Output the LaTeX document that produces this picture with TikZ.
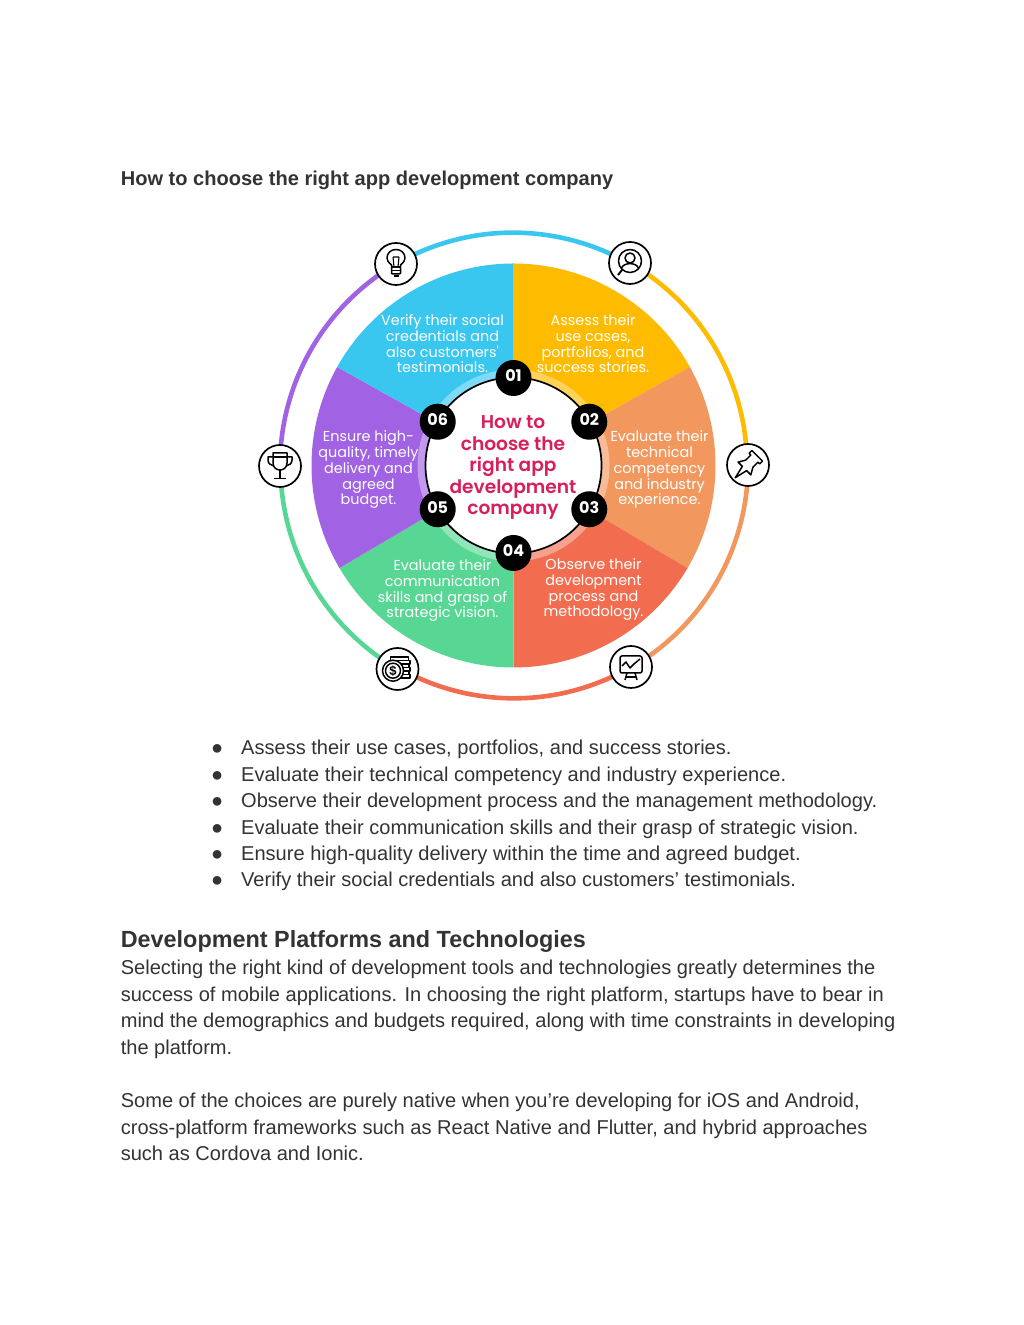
\documentclass[tikz,border=0pt]{standalone}
\usepackage{fontspec}
\setmainfont{Liberation Sans}
\newfontfamily\wheelfont{Poppins}
\newfontfamily\hubfont{Poppins SemiBold}
\usetikzlibrary{backgrounds,calc}
\definecolor{ink}{HTML}{333333}
\definecolor{crimson}{HTML}{D81F5C}
\definecolor{skyblue}{HTML}{3AC7EF}
\definecolor{amber}{HTML}{FFBB00}
\definecolor{peach}{HTML}{F2985F}
\definecolor{coral}{HTML}{F26D50}
\definecolor{mint}{HTML}{57D694}
\definecolor{violet}{HTML}{A162E3}

\begin{document}
\begin{tikzpicture}[x=1pt,y=1pt,
      bodytext/.style={anchor=base west,inner sep=0pt,text=ink,font=\fontsize{20.05}{26.4}\selectfont},
      heading/.style={anchor=base west,inner sep=0pt,text=ink},
      wedgetext/.style={align=center,inner sep=0pt,text=white,
                    font=\wheelfont\fontsize{14.4}{15.7}\selectfont},
      hubtext/.style={align=center,inner sep=0pt,text=crimson,
                    font=\hubfont\fontsize{18.6}{21.5}\selectfont},
      badge/.style={circle,fill=black,text=white,minimum size=36pt,inner sep=0pt,text depth=4pt,
                    font=\wheelfont\fontsize{16}{16}\selectfont\bfseries},
      iconring/.style={circle,draw=black,fill=white,line width=1.7pt,minimum size=42pt,inner sep=0pt},
      ringarc/.style={line width=4.6pt},
      glyph/.style={draw=black,line width=1.5pt,line join=round}]
    \useasboundingbox (0,0) rectangle (1024,1325);
    \coordinate (hub) at (513.5,859.5);

    % wheel
    \fill[amber,shift={(hub)}] (0,0) -- (90:202) arc (90:29.2:202) -- cycle;
    \fill[peach,shift={(hub)}] (0,0) -- (29.2:202) arc (29.2:-30.5:202) -- cycle;
    \fill[coral,shift={(hub)}] (0,0) -- (-30.5:202) arc (-30.5:-90:202) -- cycle;
    \fill[mint,shift={(hub)}] (0,0) -- (-90:202) arc (-90:-149.5:202) -- cycle;
    \fill[violet,shift={(hub)}] (0,0) -- (-149.5:202) arc (-149.5:-209.2:202) -- cycle;
    \fill[skyblue,shift={(hub)}] (0,0) -- (150.8:202) arc (150.8:90:202) -- cycle;

    % lighter band round the centre
    \fill[amber!65!white,shift={(hub)}] (0,0) -- (90:96) arc (90:30:96) -- cycle;
    \fill[peach!65!white,shift={(hub)}] (0,0) -- (30:96) arc (30:-30:96) -- cycle;
    \fill[coral!65!white,shift={(hub)}] (0,0) -- (-30:96) arc (-30:-90:96) -- cycle;
    \fill[mint!65!white,shift={(hub)}] (0,0) -- (-90:96) arc (-90:-150:96) -- cycle;
    \fill[violet!65!white,shift={(hub)}] (0,0) -- (-150:96) arc (-150:-210:96) -- cycle;
    \fill[skyblue!65!white,shift={(hub)}] (0,0) -- (150:96) arc (150:90:96) -- cycle;
    \draw[black,fill=white,line width=1.7pt] (hub) circle (88);

    \node[hubtext] (hubtitle) at (513,857.5) {How to\\choose the\\right app\\development\\company};

    \node[badge] (badgeA) at ($(hub)+(90:87.5)$) {01};
    \node[badge] (badgeB) at ($(hub)+(30:87.5)$) {02};
    \node[badge] (badgeC) at ($(hub)+(-30:87.5)$) {03};
    \node[badge] (badgeD) at ($(hub)+(-90:87.5)$) {04};
    \node[badge] (badgeE) at ($(hub)+(-150:87.5)$) {05};
    \node[badge] (badgeF) at ($(hub)+(150:87.5)$) {06};

    \node[wedgetext] (stepA) at (593,981.2) {Assess their\\use cases,\\portfolios, and\\success stories.};
    \node[wedgetext] (stepB) at (659.5,855.2) {Evaluate their\\technical\\competency\\and industry\\experience.};
    \node[wedgetext] (stepC) at (593.5,735.3) {Observe their\\development\\process and\\methodology.};
    \node[wedgetext] (stepD) at (442.5,734.3) {Evaluate their\\communication\\skills and grasp of\\strategic vision.};
    \node[wedgetext] (stepE) at (368.5,855.2) {Ensure high-\\quality, timely\\delivery and\\agreed\\budget.};
    \node[wedgetext] (stepF) at (442.5,981.2) {Verify their social\\credentials and\\also customers'\\testimonials.};

    % icons on the outer ring
    \node[iconring] (iconA) at (630,1062) {};
    \node[iconring] (iconB) at (748,860) {};
    \node[iconring] (iconC) at (631,658) {};
    \node[iconring] (iconD) at (397.5,656) {};
    \node[iconring] (iconE) at (280,859) {};
    \node[iconring] (iconF) at (396,1061) {};

    \begin{pgfonlayer}{background}
      \draw[ringarc,amber] (iconA.center) arc[start angle=60,end angle=0,radius=234];
      \draw[ringarc,peach] (iconB.center) arc[start angle=0,end angle=-60,radius=234];
      \draw[ringarc,coral] (iconC.center) arc[start angle=-60,end angle=-120,radius=234];
      \draw[ringarc,mint] (iconD.center) arc[start angle=-120,end angle=-180,radius=234];
      \draw[ringarc,violet] (iconE.center) arc[start angle=180,end angle=120,radius=234];
      \draw[ringarc,skyblue] (iconF.center) arc[start angle=120,end angle=60,radius=234];
    \end{pgfonlayer}

    % lens and person
    \begin{scope}[shift={(iconA)}]
      \draw[glyph] (0,2) circle (11.5);
      \draw[glyph] (0,5) circle (5);
      \draw[glyph] (-8.5,-5.5) .. controls (-7,1) and (7,1) .. (8.5,-5.5);
      \draw[glyph,line width=1.9pt] (-8,-7) -- (-12,-12);
    \end{scope}
    % pin
    \begin{scope}[shift={(iconB)},rotate=-45]
      \draw[glyph] (0,-18) -- (-3,-5) -- (-9,-5) -- (-5,2) -- (-5,9) -- (-7.5,9) -- (-7.5,13)
        -- (7.5,13) -- (7.5,9) -- (5,9) -- (5,2) -- (9,-5) -- (3,-5) -- cycle;
    \end{scope}
    % chart on a stand
    \begin{scope}[shift={(iconC)}]
      \draw[glyph,rounded corners=2pt] (-11,-6) rectangle (11,11);
      \draw[glyph] (-9,1) -- (-5,5) -- (-1,-1) -- (3,3) -- (9,8);
      \draw[glyph] (-4,-6) -- (-6,-13);
      \draw[glyph] (4,-6) -- (6,-13);
      \draw[glyph] (-5,-10) -- (5,-10);
    \end{scope}
    % coins
    \begin{scope}[shift={(iconD)}]
      \draw[glyph,fill=white] (-7,8.5) rectangle (11,12);
      \draw[glyph,fill=white] (-5,5) rectangle (12.5,8.5);
      \draw[glyph,fill=white] (-3,1.5) rectangle (11.5,5);
      \draw[glyph,fill=white] (-3,-2) rectangle (12.5,1.5);
      \draw[glyph,fill=white] (-3,-5.5) rectangle (11.5,-2);
      \draw[glyph,fill=white] (-3,-9) rectangle (12.5,-5.5);
      \draw[glyph,fill=white] (-4.5,-1.7) circle (10.5);
      \draw[glyph] (-4.5,-1.7) circle (7.5);
      \node[inner sep=0pt,font=\fontsize{13}{13}\selectfont\bfseries] (coinsign) at (-4.5,-1.7) {\$};
    \end{scope}
    % trophy
    \begin{scope}[shift={(iconE)}]
      \draw[glyph] (-7,13) -- (7,13) -- (7,3) .. controls (7,-2) and (3,-4) .. (0,-4)
        .. controls (-3,-4) and (-7,-2) .. (-7,3) -- cycle;
      \draw[glyph] (-7,9) -- (7,9);
      \draw[glyph] (-7,9) -- (-12,9) -- (-12,6) .. controls (-12,2) and (-9,1) .. (-6,0);
      \draw[glyph] (7,9) -- (12,9) -- (12,6) .. controls (12,2) and (9,1) .. (6,0);
      \draw[glyph] (0,-4) -- (0,-12);
      \draw[glyph] (-6,-12.5) -- (6,-12.5);
    \end{scope}
    % light bulb
    \begin{scope}[shift={(iconF)}]
      \draw[glyph] (-4.5,-3) -- (-4.5,-1) .. controls (-8,2) and (-9,4) .. (-9,6)
        .. controls (-9,11) and (-5,14.5) .. (0,14.5)
        .. controls (5,14.5) and (9,11) .. (9,6)
        .. controls (9,4) and (8,2) .. (4.5,-1) -- (4.5,-3) -- cycle;
      \draw[glyph,line width=1.1pt] (-2,-3) -- (-3,7) (2,-3) -- (3,7) (-3,7) -- (3,7);
      \draw[glyph,rounded corners=1pt] (-4.5,-3) rectangle (4.5,-10);
      \draw[glyph] (-4.5,-6.5) -- (4.5,-6.5);
      \draw[glyph] (-2.5,-12) -- (2.5,-12);
    \end{scope}

    % page text
    \node[heading,font=\fontsize{20.05}{24}\selectfont\bfseries] (pagetitle) at (120.6,1139) {How to choose the right app development company};

    \node[bodytext] (dotA) at (211,570) {●};
    \node[bodytext] (dotB) at (211,543.6) {●};
    \node[bodytext] (dotC) at (211,517.2) {●};
    \node[bodytext] (dotD) at (211,490.8) {●};
    \node[bodytext] (dotE) at (211,464.4) {●};
    \node[bodytext] (dotF) at (211,438) {●};
    \node[bodytext] (itemA) at (241,570) {Assess their use cases, portfolios, and success stories.};
    \node[bodytext] (itemB) at (241,543.6) {Evaluate their technical competency and industry experience.};
    \node[bodytext] (itemC) at (241,517.2) {Observe their development process and the management methodology.};
    \node[bodytext] (itemD) at (241,490.8) {Evaluate their communication skills and their grasp of strategic vision.};
    \node[bodytext] (itemE) at (241,464.4) {Ensure high-quality delivery within the time and agreed budget.};
    \node[bodytext] (itemF) at (241,438) {Verify their social credentials and also customers’ testimonials.};

    \node[heading,font=\fontsize{23.4}{26}\selectfont\bfseries] (sectiontitle) at (120.6,377) {Development Platforms and Technologies};

    \node[bodytext] (paraAa) at (120.6,350) {Selecting the right kind of development tools and technologies greatly determines the};
    \node[bodytext] (paraAb) at (120.6,323.6) {success of mobile applications. In choosing the right platform, startups have to bear in};
    \node[bodytext] (paraAc) at (120.6,297.2) {mind the demographics and budgets required, along with time constraints in developing};
    \node[bodytext] (paraAd) at (120.6,270.8) {the platform.};

    \node[bodytext] (paraBa) at (120.6,217) {Some of the choices are purely native when you’re developing for iOS and Android,};
    \node[bodytext] (paraBb) at (120.6,190.6) {cross-platform frameworks such as React Native and Flutter, and hybrid approaches};
    \node[bodytext] (paraBc) at (120.6,164.2) {such as Cordova and Ionic.};
\end{tikzpicture}
\end{document}
